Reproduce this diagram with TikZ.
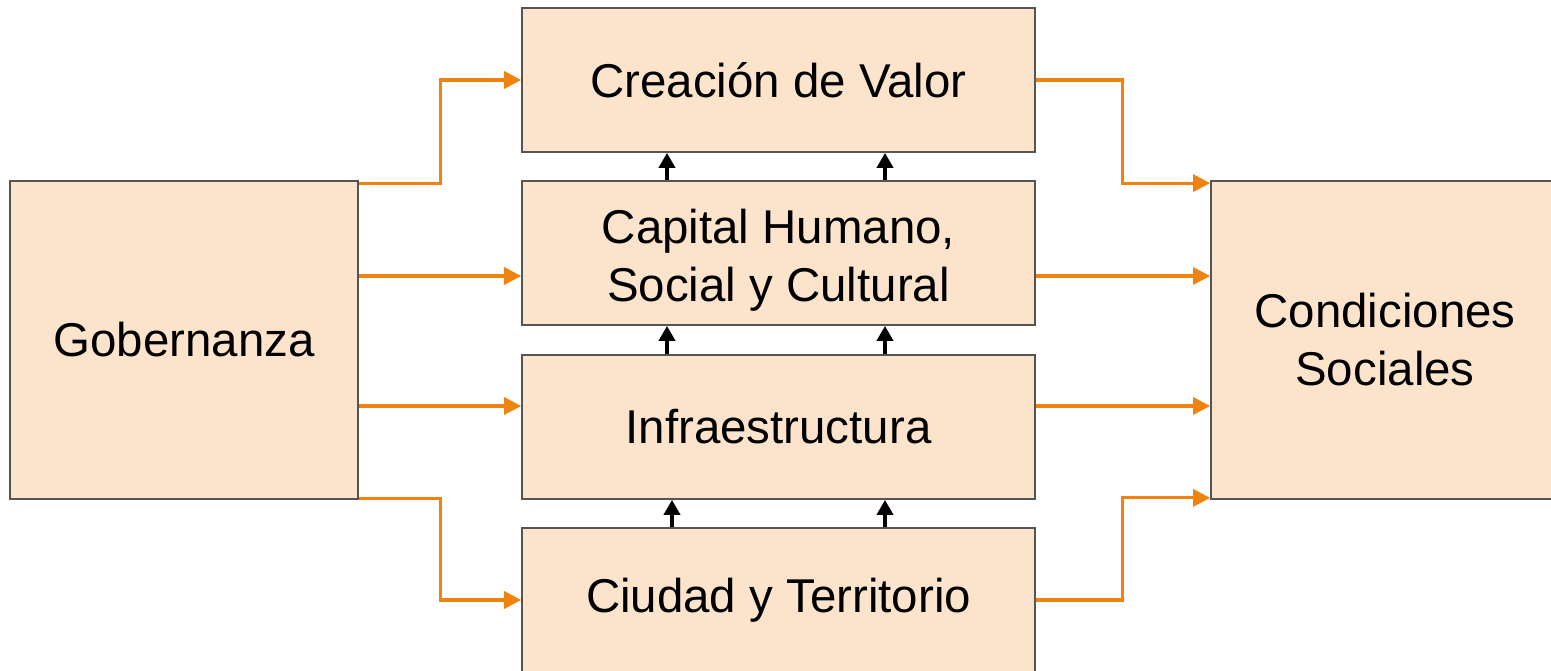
\documentclass[tikz,border=0pt]{standalone}
\usepackage{fontspec}
\setmainfont{Liberation Sans}
\usepackage{xcolor}
\usetikzlibrary{arrows.meta,positioning,calc}

\definecolor{boxfill}{RGB}{252,228,204}
\definecolor{boxline}{RGB}{85,85,85}
\definecolor{flow}{RGB}{240,130,16}

\begin{document}
\begin{tikzpicture}[semithick]
	\tikzstyle{block}=[draw=boxline,line width=1pt,fill=boxfill,text=black,align=center,
		font=\fontsize{27}{33}\selectfont,inner sep=0pt]
	\tikzstyle{wide}=[block,minimum width=10.26cm,minimum height=2.88cm]
	\tikzstyle{side}=[block,minimum width=6.96cm,minimum height=6.36cm]
	\tikzstyle{feed}=[draw=flow,line width=1.8pt,-{Triangle[length=0.34cm,width=0.34cm]}]
	\tikzstyle{up}=[draw=black,line width=2.4pt,-{Triangle[length=0.3cm,width=0.32cm]}]
	\useasboundingbox (0,0) rectangle (31.02,13.42);

	\node[side] (gob)     at (3.68,6.62)  {Gobernanza};
	\node[wide] (valor)   at (15.57,11.82) {Creación de Valor};
	\node[wide] (capital) at (15.57,8.36)  {\\[-0.2cm]Capital Humano,\\Social y Cultural};
	\node[wide] (infra)   at (15.57,4.88)  {Infraestructura};
	\node[wide] (ciudad)  at (15.57,1.42)  {Ciudad y Territorio};
	\node[side] (cond)    at (27.70,6.62)  {Condiciones\\Sociales};

	% gobernanza hacia el centro
	\draw[feed] ([yshift=-0.06cm]gob.north east) -- ++(1.64,0) |- (valor.west);
	\path
	(gob.east |- 0,7.90) edge[feed] (capital.west |- 0,7.90)
	(gob.east |- 0,5.30) edge[feed] (infra.west |- 0,5.30);
	\draw[feed] ([yshift=0.02cm]gob.south east) -- ++(1.64,0) |- (ciudad.west);

	% centro hacia condiciones
	\draw[feed] (valor.east) -- ++(1.74,0) |- ([yshift=-0.06cm]cond.north west);
	\path
	(capital.east |- 0,7.90) edge[feed] (cond.west |- 0,7.90)
	(infra.east |- 0,5.30) edge[feed] (cond.west |- 0,5.30);
	\draw[feed] (ciudad.east) -- ++(1.74,0) |- ([yshift=0.04cm]cond.south west);

	% flechas verticales
	\path
	([xshift=-2.23cm]capital.north) edge[up] ([xshift=-2.23cm]valor.south)
	([xshift=2.13cm]capital.north) edge[up] ([xshift=2.13cm]valor.south)
	([xshift=-2.23cm]infra.north) edge[up] ([xshift=-2.23cm]capital.south)
	([xshift=2.13cm]infra.north) edge[up] ([xshift=2.13cm]capital.south)
	([xshift=-2.13cm]ciudad.north) edge[up] ([xshift=-2.13cm]infra.south)
	([xshift=2.13cm]ciudad.north) edge[up] ([xshift=2.13cm]infra.south);
\end{tikzpicture}
\end{document}
